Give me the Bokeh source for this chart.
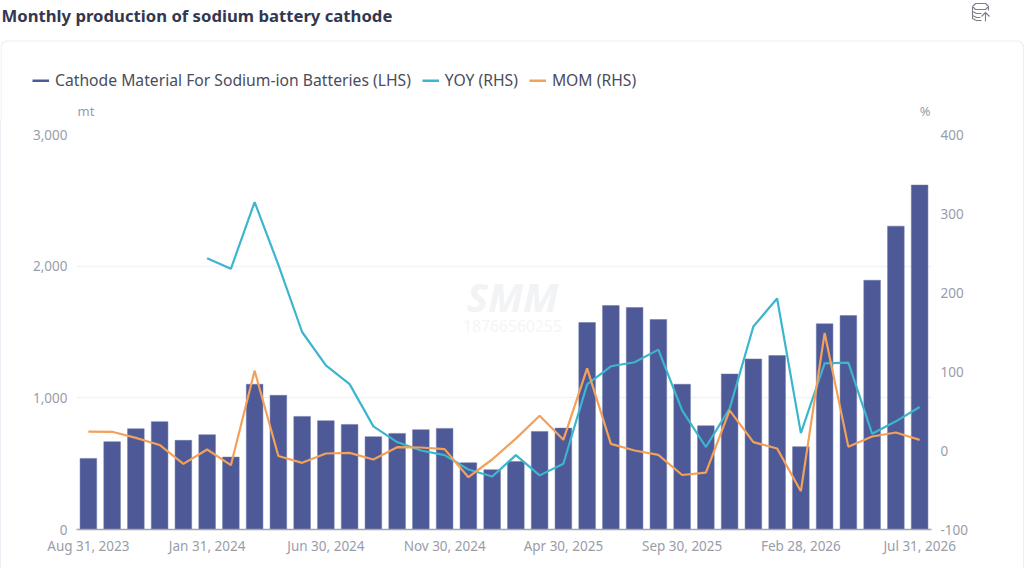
from bokeh.plotting import figure
from bokeh.embed import file_html
from bokeh.resources import INLINE
from bokeh.models import (Range1d, LinearAxis, FixedTicker, Legend, LegendItem, Label,
                          NumeralTickFormatter)

title = "Monthly production of sodium battery cathode"
dates = ["Aug 31, 2023", "Sep 30, 2023", "Oct 31, 2023", "Nov 30, 2023", "Dec 31, 2023", "Jan 31, 2024",
         "Feb 29, 2024", "Mar 31, 2024", "Apr 30, 2024", "May 31, 2024", "Jun 30, 2024", "Jul 31, 2024",
         "Aug 31, 2024", "Sep 30, 2024", "Oct 31, 2024", "Nov 30, 2024", "Dec 31, 2024", "Jan 31, 2025",
         "Feb 28, 2025", "Mar 31, 2025", "Apr 30, 2025", "May 31, 2025", "Jun 30, 2025", "Jul 31, 2025",
         "Aug 31, 2025", "Sep 30, 2025", "Oct 31, 2025", "Nov 30, 2025", "Dec 31, 2025", "Jan 31, 2026",
         "Feb 28, 2026", "Mar 31, 2026", "Apr 30, 2026", "May 31, 2026", "Jun 30, 2026", "Jul 31, 2026"]
production = [540, 667, 765, 819, 677, 720, 550, 1103, 1019, 859, 826, 798, 705, 730, 758, 768, 507, 454,
              517, 745, 770, 1572, 1701, 1686, 1595, 1103, 788, 1181, 1295, 1321, 629, 1562, 1625, 1893, 2304, 2616]
yoy = [None, None, None, None, None, 243.5, 230, 314.5, 235, 150, 107.8, 84, 30.5, 10.7, 0, -5.8, -24, -33,
       -5.8, -31.5, -16.8, 83.7, 106.6, 111.7, 127.7, 50.8, 4.4, 53, 157, 192.4, 22, 110.4, 111.2, 21.2, 36.9, 55]
mom = [24, 23.7, 16, 7, -17, 1.3, -18.6, 101, -7, -15.6, -3.8, -3, -11.4, 4.2, 3.8, 1.7, -33.8, -11.4,
       15, 44, 13.5, 104, 8.4, 0, -5.5, -31, -28, 50.7, 10.6, 2.5, -51.5, 148.7, 4.6, 17.7, 22.8, 13.5]
left_ticks = [0, 1000, 2000, 3000]
right_ticks = [-100, 0, 100, 200, 300, 400]
x_tick_index = [0, 5, 10, 15, 20, 25, 30, 35]
series_names = ["Cathode Material For Sodium-ion Batteries (LHS)", "YOY (RHS)", "MOM (RHS)"]
series_colors = ["#4e5a97", "#3cb5cd", "#f3a15a"]

FONT = "Noto Sans"
W, H = 1024, 568
HEAD = 120            # header strip height (title, legend, axis units)
L, R, T, B = 76, 94, 14, 39
FB = H - B
xs = list(range(len(dates)))
yoy_n = [float("nan") if v is None else v for v in yoy]

# ---------- header strip: its data space equals page pixels ----------
h = figure(width=W, height=HEAD, output_backend="svg", toolbar_location=None,
           x_range=Range1d(0, W), y_range=Range1d(HEAD, 0),
           min_border_left=0, min_border_right=0, min_border_top=0, min_border_bottom=0,
           outline_line_color=None, x_axis_location=None, y_axis_location=None)
h.grid.visible = False

h.quad(left=[0.5], right=[1023], top=[40.5], bottom=[HEAD + 20], fill_color="white",
       line_color="#eceef6", line_width=1.2, border_radius=6)

def hlabel(x, y, text, size, color, style="normal", align="left"):
    h.add_layout(Label(x=x, y=y, text=text, text_font=FONT, text_font_size=size, text_color=color,
                       text_font_style=style, text_align=align, text_baseline="middle"))

hlabel(1, 15, title, "16.7px", "#333750", "bold")
hlabel(77, 110, "mt", "13px", "#9a9ca9")
hlabel(930, 110, "%", "13px", "#9a9ca9", align="right")

for pts in [[(972, 6), (975, 3), (985, 3), (988, 6), (985, 9), (975, 9), (972, 6)],
            [(972, 6), (972, 18), (976, 20), (981, 20)],
            [(972, 11), (976, 13), (981, 13)],
            [(972, 15), (976, 17), (980, 17)],
            [(988, 6), (988, 10)],
            [(985, 21), (985, 12)],
            [(981, 16), (985, 12), (989, 16)]]:
    h.line([a for a, b in pts], [b for a, b in pts], line_color="#7b7f8c", line_width=1.1)

# off-screen stubs that only give the legend its swatches
proxies = [h.line([-20, -10], [-20, -20], line_color=c, line_width=3) for c in series_colors]
legend = Legend(items=[LegendItem(label=n, renderers=[r]) for n, r in zip(series_names, proxies)],
                orientation="horizontal", location=(32, HEAD - 91), border_line_color=None,
                background_fill_alpha=0, label_text_font=FONT, label_text_font_size="15.7px",
                label_text_color="#4a4d5c", glyph_width=17, glyph_height=3, label_standoff=6,
                spacing=11, padding=0, margin=0)
h.add_layout(legend, "center")

# ---------- chart ----------
p = figure(width=W - 2, height=H - HEAD, output_backend="svg", toolbar_location=None,
           x_range=Range1d(-0.5, 35.5), y_range=Range1d(0, 3000),
           min_border_left=L - 1, min_border_right=R, min_border_top=T, min_border_bottom=B,
           outline_line_color=None, background_fill_color="white", border_fill_color="white",
           y_axis_location="left")
p.styles = {"border-left": "1px solid #eceef6", "border-right": "1px solid #eceef6", "box-sizing": "content-box"}
p.extra_y_ranges = {"rhs": Range1d(-100, 400)}
p.xgrid.visible = False
p.ygrid.grid_line_color = "#f1f2f8"
p.ygrid.grid_line_width = 1.5
p.ygrid.ticker = FixedTicker(ticks=left_ticks)

ax = p.xaxis[0]
ax.ticker = FixedTicker(ticks=x_tick_index)
ax.major_label_overrides = {i: dates[i] for i in x_tick_index}
ax.major_tick_line_color = None
ax.minor_tick_line_color = None
ax.axis_line_color = "#a3a5b0"
ax.axis_line_width = 1.5
ax.major_label_text_color = "#9a9ca9"
ax.major_label_text_font = FONT
ax.major_label_text_font_size = "13.5px"
ax.major_label_standoff = 1

ay = p.yaxis[0]
ay.ticker = FixedTicker(ticks=left_ticks)
ay.formatter = NumeralTickFormatter(format="0,0")
ay.major_tick_line_color = None
ay.minor_tick_line_color = None
ay.axis_line_color = None
ay.major_label_text_color = "#9a9ca9"
ay.major_label_text_font = FONT
ay.major_label_text_font_size = "13.5px"
ay.major_label_standoff = 3

ar = LinearAxis(y_range_name="rhs", ticker=FixedTicker(ticks=right_ticks))
ar.major_label_overrides = {-100: "-100"}
ar.major_tick_line_color = None
ar.minor_tick_line_color = None
ar.axis_line_color = None
ar.major_label_text_color = "#9a9ca9"
ar.major_label_text_font = FONT
ar.major_label_text_font_size = "13.5px"
ar.major_label_standoff = 3
p.add_layout(ar, "right")

p.add_layout(Label(x=512 - L, y=FB - 296, x_units="screen", y_units="screen", text="SMM", text_font=FONT,
                   text_font_size="40px", text_color="#f2f3f5", text_font_style="bold italic",
                   text_align="center", text_baseline="middle"))
p.add_layout(Label(x=512 - L, y=FB - 325, x_units="screen", y_units="screen", text="18766560255", text_font=FONT,
                   text_font_size="15.7px", text_color="#f5f5f8", text_align="center", text_baseline="middle"))

p.vbar(x=xs, top=production, width=0.7, bottom=0, fill_color=series_colors[0], line_color="#6a74a8", line_width=0.5)
p.line(xs, yoy_n, y_range_name="rhs", line_color=series_colors[1], line_width=2.2)
p.line(xs, mom, y_range_name="rhs", line_color=series_colors[2], line_width=2.2)

open("out.html", "w").write(file_html([h, p], INLINE))
